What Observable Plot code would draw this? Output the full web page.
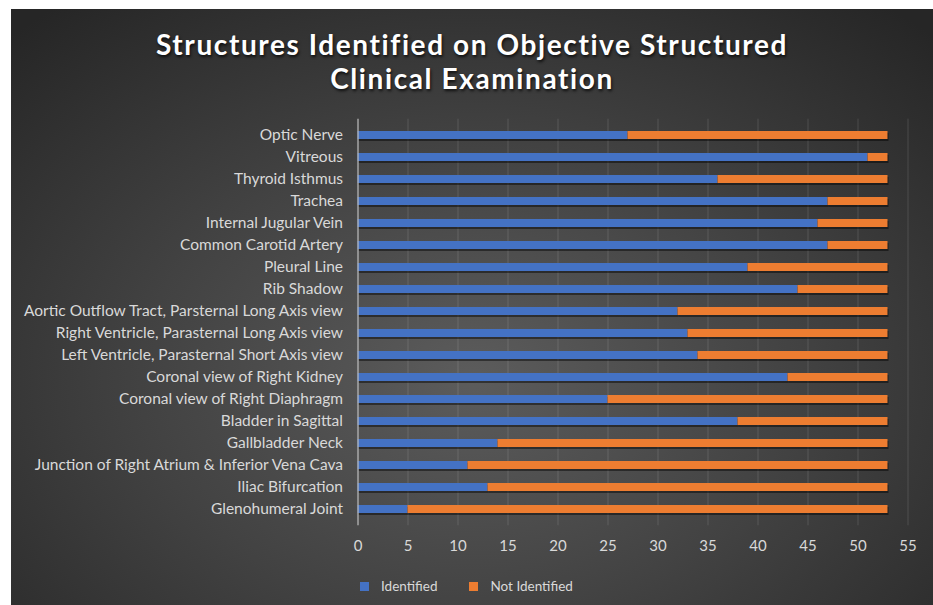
<!DOCTYPE html>
<html>
<head>
<meta charset="utf-8">
<script src="https://cdn.jsdelivr.net/npm/d3@7"></script>
<script src="https://cdn.jsdelivr.net/npm/@observablehq/plot@0.6"></script>
<style>
  html, body { margin: 0; padding: 0; background: #ffffff; }
  #panel {
    position: absolute; left: 11px; top: 9px; width: 922px; height: 596px;
    background: radial-gradient(ellipse 72% 80% at 50% 62%, #5c5c5c 0%, #424242 50%, #262626 100%);
    overflow: hidden;
    font-family: Lato, "Open Sans", sans-serif;
  }
  .tline {
    position: absolute; left: 0; width: 922px; text-align: center;
    color: #ffffff; font-weight: bold; font-size: 28px; line-height: 32px; letter-spacing: 1.6px;
    text-shadow: 1px 2px 3px rgba(0,0,0,0.75);
  }
  #chart { position: absolute; left: 0; top: 100px; }
  #legend {
    position: absolute; top: 569px; left: 349px; height: 16px;
    color: #d9d9d9; font-size: 13.5px; display: flex; align-items: center;
  }
  .sw { display: inline-block; width: 9px; height: 9px; margin-right: 12px; }
  .item { display: flex; align-items: center; margin-right: 32px; }
</style>
</head>
<body>
<div id="panel">
  <div class="tline" style="top:19px">Structures Identified on Objective Structured</div>
  <div class="tline" style="top:53px">Clinical Examination</div>
  <div id="chart"></div>
  <div id="legend"></div>
</div>
<script>
const structures = [
  "Optic Nerve",
  "Vitreous",
  "Thyroid Isthmus",
  "Trachea",
  "Internal Jugular Vein",
  "Common Carotid Artery",
  "Pleural Line",
  "Rib Shadow",
  "Aortic Outflow Tract, Parsternal Long Axis view",
  "Right Ventricle, Parasternal Long Axis view",
  "Left Ventricle, Parasternal Short Axis view",
  "Coronal view of Right Kidney",
  "Coronal view of Right Diaphragm",
  "Bladder in Sagittal",
  "Gallbladder Neck",
  "Junction of Right Atrium & Inferior Vena Cava",
  "Iliac Bifurcation",
  "Glenohumeral Joint"
];
const identified    = [27, 51, 36, 47, 46, 47, 39, 44, 32, 33, 34, 43, 25, 38, 14, 11, 13, 5];
const notIdentified = [26,  2, 17,  6,  7,  6, 14,  9, 21, 20, 19, 10, 28, 15, 39, 42, 40, 48];
const seriesNames = ["Identified", "Not Identified"];
const seriesColors = ["#4472C4", "#ED7D31"];
const xTicks = [0, 5, 10, 15, 20, 25, 30, 35, 40, 45, 50, 55];

const rows = [];
structures.forEach((s, i) => {
  rows.push({structure: s, status: seriesNames[0], value: identified[i]});
  rows.push({structure: s, status: seriesNames[1], value: notIdentified[i]});
});

const chart = Plot.plot({
  width: 922,
  height: 450,
  marginLeft: 346.5,
  marginRight: 25.5,
  marginTop: 9.7,
  marginBottom: 33.7,
  style: {background: "transparent", color: "#d9d9d9", fontFamily: "Lato, 'Open Sans', sans-serif", fontSize: "15px"},
  x: {domain: [0, 55]},
  y: {domain: structures, paddingInner: 0.62, paddingOuter: 0.31},
  color: {domain: seriesNames, range: seriesColors},
  marks: [
    Plot.gridX(xTicks.slice(1), {stroke: "#ffffff", strokeOpacity: 0.13, strokeWidth: 1}),
    Plot.barX(rows, {x: "value", y: "structure", fill: "#000000", fillOpacity: 0.45, dy: 2, dx: 1}),
    Plot.barX(rows, {x: "value", y: "structure", fill: "status"}),
    Plot.ruleX([0], {stroke: "#bfbfbf", strokeWidth: 1.2}),
    Plot.axisX(xTicks, {tickSize: 0, tickPadding: 15, fontSize: 15, fill: "#d9d9d9", label: null}),
    Plot.axisY({tickSize: 0, tickPadding: 15, fontSize: 15.5, fill: "#d9d9d9", label: null})
  ]
});
document.getElementById("chart").appendChild(chart);

const legend = document.getElementById("legend");
seriesNames.forEach((n, i) => {
  const it = document.createElement("div");
  it.className = "item";
  const sw = document.createElement("span");
  sw.className = "sw";
  sw.style.background = seriesColors[i];
  it.appendChild(sw);
  const t = document.createElement("span");
  t.textContent = n;
  it.appendChild(t);
  legend.appendChild(it);
});
</script>
</body>
</html>
